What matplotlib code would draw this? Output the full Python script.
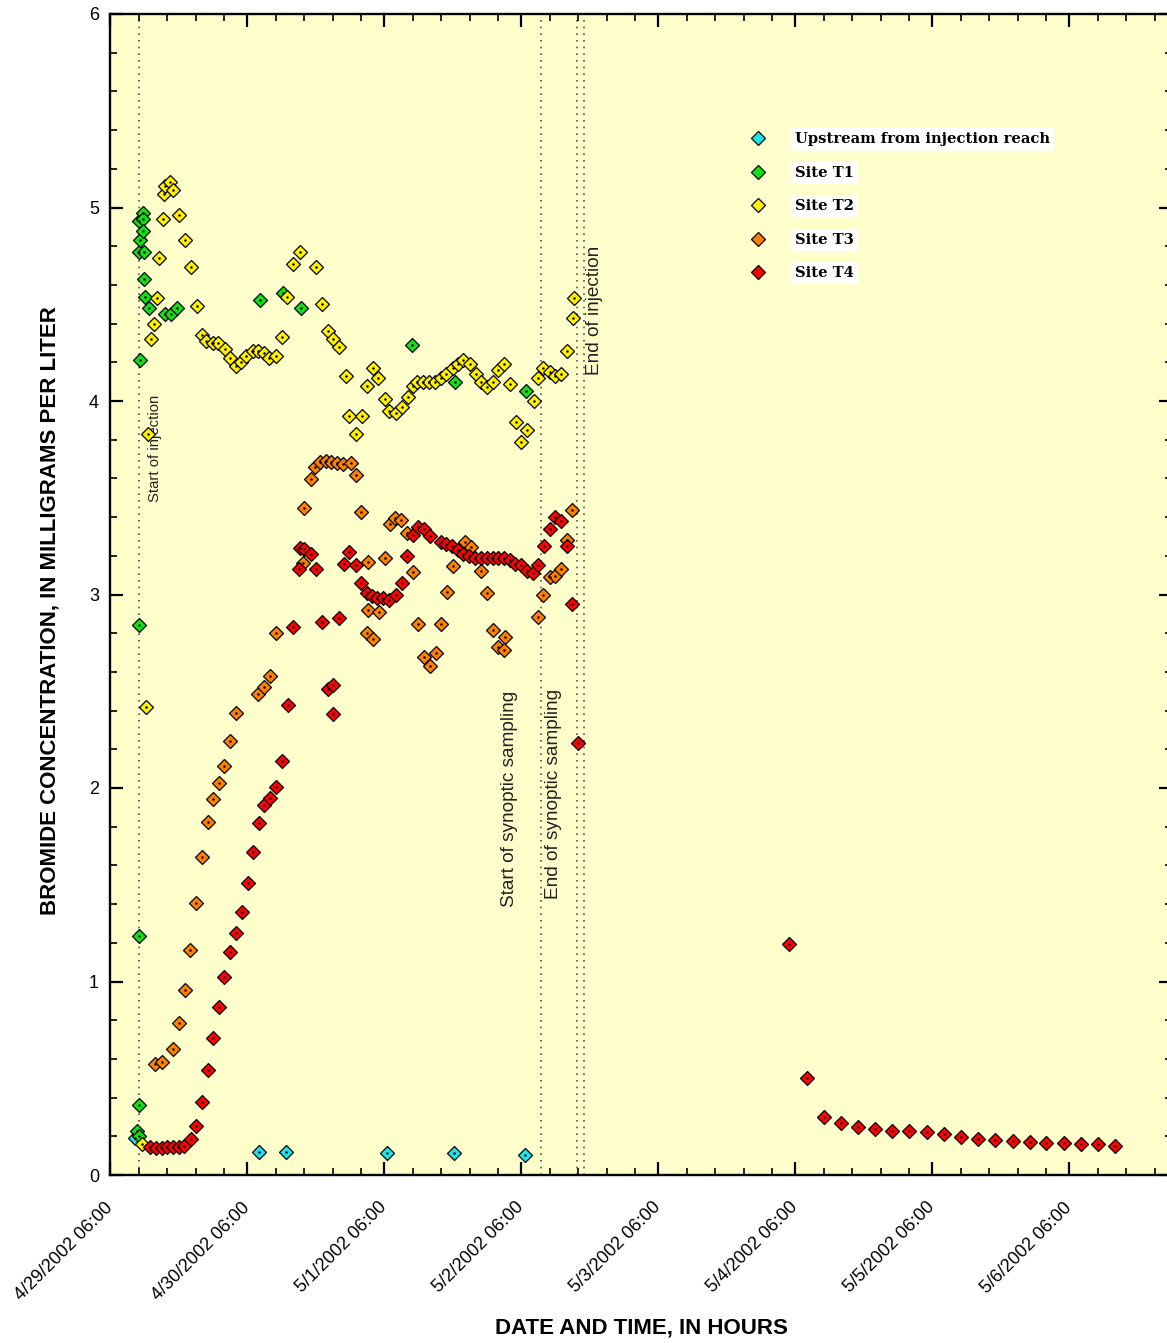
import numpy as np
import matplotlib.pyplot as plt
import matplotlib.transforms as mtransforms
from matplotlib.ticker import FixedLocator

plt.rcParams['font.family'] = ['Liberation Sans', 'DejaVu Sans']

# Times are hours after 4/29/2002 06:00
upstream_hours = [4.3, 26.1, 30.8, 48.5, 60.3, 72.7]
upstream_conc = [0.19, 0.12, 0.12, 0.115, 0.115, 0.105]

t1_hours = [4.7, 5.1, 5.1, 5.1, 5.1, 5.3, 5.1, 5.3, 5.1, 5.7, 5.8, 5.8, 6.0,
            6.0, 6.1, 6.8, 9.6, 10.6, 11.8, 26.3, 30.3, 33.4, 52.9, 60.4, 72.9]
t1_conc = [0.227, 0.20, 0.36, 1.235, 2.84, 4.21, 4.77, 4.83, 4.93, 4.97, 4.94, 4.88, 4.77,
           4.63, 4.54, 4.48, 4.45, 4.45, 4.48, 4.52, 4.56, 4.48, 4.29, 4.10, 4.05]

t2_hours = [5.6, 6.3, 6.6, 7.1, 7.7, 8.2, 8.6, 9.2, 9.5, 9.7, 10.5, 11.1, 12.1, 13.2,
            14.1, 15.2, 16.1, 16.9, 18.1, 19.0, 20.2, 21.0, 22.0, 22.9, 23.8, 25.0,
            26.0, 27.0, 27.9, 29.1, 30.1, 31.0, 32.1, 33.2, 36.1, 37.1, 38.1, 39.0,
            40.1, 41.3, 41.9, 43.1, 44.1, 45.0, 46.0, 47.0, 48.1, 48.9, 50.1, 51.1,
            52.2, 53.0, 53.8, 54.8, 55.8, 56.9, 57.9, 58.9, 60.0, 60.9, 61.9, 63.1,
            64.1, 64.9, 66.0, 67.0, 68.0, 69.0, 70.1, 71.1, 72.0, 73.0, 74.2, 75.0,
            75.9, 77.0, 78.0, 79.0, 80.0, 81.1, 81.2]
t2_conc = [0.16, 2.42, 3.83, 4.32, 4.40, 4.53, 4.74, 4.94, 5.07, 5.11, 5.13, 5.09, 4.96, 4.83,
           4.69, 4.49, 4.34, 4.31, 4.30, 4.30, 4.27, 4.22, 4.18, 4.20, 4.23, 4.26,
           4.26, 4.25, 4.22, 4.23, 4.33, 4.54, 4.71, 4.77, 4.69, 4.50, 4.36, 4.32,
           4.28, 4.13, 3.92, 3.83, 3.92, 4.08, 4.17, 4.12, 4.01, 3.95, 3.94, 3.97,
           4.02, 4.08, 4.10, 4.10, 4.10, 4.10, 4.12, 4.14, 4.17, 4.19, 4.21, 4.19,
           4.14, 4.10, 4.07, 4.10, 4.16, 4.19, 4.09, 3.89, 3.79, 3.85, 4.00, 4.12,
           4.17, 4.15, 4.13, 4.14, 4.26, 4.43, 4.53]

t3_hours = [7.9, 9.1, 11.1, 12.1, 13.1, 14.0, 15.1, 16.1, 17.1, 18.1, 19.1, 20.0, 21.0,
            22.1, 26.0, 27.0, 28.0, 29.1, 33.8, 34.0, 35.2, 35.9, 36.8, 37.8, 38.7,
            39.7, 40.8, 42.2, 43.1, 44.0, 45.1, 45.0, 45.1, 46.0, 47.1, 48.1, 49.1,
            49.9, 51.0, 52.0, 53.1, 54.0, 55.0, 56.1, 57.1, 58.0, 59.0, 60.0, 62.1,
            63.2, 65.0, 66.0, 67.0, 68.0, 69.1, 69.0, 75.0, 75.9, 77.0, 78.0, 79.0,
            80.0, 81.0]
t3_conc = [0.574, 0.583, 0.652, 0.783, 0.955, 1.163, 1.408, 1.643, 1.825, 1.943, 2.024, 2.115, 2.245,
           2.387, 2.485, 2.523, 2.577, 2.80, 3.165, 3.445, 3.597, 3.66, 3.686, 3.69, 3.683,
           3.678, 3.673, 3.678, 3.618, 3.428, 3.17, 2.80, 2.92, 2.77, 2.91, 3.19, 3.364,
           3.397, 3.385, 3.316, 3.118, 2.848, 2.679, 2.632, 2.70, 2.848, 3.015, 3.149, 3.273,
           3.247, 3.123, 3.006, 2.817, 2.730, 2.779, 2.713, 2.885, 2.997, 3.089, 3.096, 3.132,
           3.282, 3.437]

t4_hours = [7.0, 8.1, 9.1, 9.9, 11.0, 12.0, 13.0, 14.1, 15.1, 16.1, 17.1, 18.1, 19.1,
            20.0, 21.0, 22.0, 23.1, 24.1, 25.0, 26.1, 27.0, 28.0, 29.1, 30.1, 31.1,
            32.1, 33.1, 33.3, 33.9, 35.2, 36.1, 37.1, 38.1, 39.0, 39.0, 40.1, 41.0,
            41.8, 43.1, 44.0, 45.0, 45.8, 46.8, 47.8, 48.8, 50.1, 51.1, 52.1, 53.1,
            54.0, 55.0, 56.1, 57.9, 58.8, 59.9, 60.9, 61.9, 62.9, 63.9, 64.9, 66.0,
            67.0, 68.0, 69.0, 70.1, 71.0, 72.0, 73.0, 74.1, 75.0, 76.0, 77.1, 78.0,
            79.0, 80.0, 81.0, 82.0, 119.0, 122.0, 125.0, 128.0, 131.0, 134.0, 137.0,
            140.0, 143.1, 146.0, 149.0, 152.0, 155.0, 158.1, 161.1, 164.0, 167.0,
            170.1, 173.0, 176.1]
t4_conc = [0.145, 0.14, 0.14, 0.145, 0.145, 0.145, 0.15, 0.184, 0.252, 0.375, 0.542, 0.707, 0.868,
           1.024, 1.150, 1.250, 1.359, 1.508, 1.667, 1.821, 1.910, 1.948, 2.006, 2.142, 2.427,
           2.83, 3.13, 3.24, 3.235, 3.21, 3.13, 2.86, 2.51, 2.53, 2.38, 2.88, 3.16,
           3.22, 3.15, 3.06, 3.01, 2.99, 2.98, 2.98, 2.97, 3.00, 3.06, 3.20, 3.31,
           3.35, 3.34, 3.30, 3.27, 3.26, 3.25, 3.23, 3.21, 3.20, 3.19, 3.19, 3.19,
           3.19, 3.19, 3.19, 3.18, 3.16, 3.15, 3.12, 3.11, 3.15, 3.25, 3.34, 3.40,
           3.38, 3.25, 2.95, 2.23, 1.194, 0.500, 0.301, 0.270, 0.250, 0.238, 0.229,
           0.229, 0.224, 0.212, 0.198, 0.184, 0.181, 0.177, 0.172, 0.167, 0.164,
           0.160, 0.159, 0.151]

series = [
    ('Upstream from injection reach', upstream_hours, upstream_conc, '#1EE3EE'),
    ('Site T1', t1_hours, t1_conc, '#12E012'),
    ('Site T2', t2_hours, t2_conc, '#FFF000'),
    ('Site T3', t3_hours, t3_conc, '#FF8000'),
    ('Site T4', t4_hours, t4_conc, '#FF0000'),
]

# event lines (hours) and their labels
event_hours = [5.1, 75.5, 81.8, 83.0]
event_labels = ['Start of injection', 'Start of synoptic sampling',
                'End of synoptic sampling', 'End of injection']
label_x = [7.8, 69.9, 77.6, 84.8]
label_y = [3.754, 1.943, 1.969, 4.468]
label_size = [10.7, 13.7, 13.7, 13.7]

tick_hours = [0, 24, 48, 72, 96, 120, 144, 168]
tick_labels = ['4/29/2002 06:00', '4/30/2002 06:00', '5/1/2002 06:00', '5/2/2002 06:00',
               '5/3/2002 06:00', '5/4/2002 06:00', '5/5/2002 06:00', '5/6/2002 06:00']

fig = plt.figure(figsize=(11.67, 13.43), dpi=100)
ax = fig.add_axes([110 / 1167, 1 - 1175 / 1343, 1062 / 1167, 1161 / 1343])
ax.set_facecolor('#FFFFCC')

for h in event_hours:
    ax.axvline(h, color='#555555', lw=1.2, ls=(0, (1, 3)), zorder=1)
for x, y, txt, fs in zip(label_x, label_y, event_labels, label_size):
    ax.text(x, y, txt, rotation=90, ha='center', va='center', fontsize=fs, color='#222222')

for name, xs, ys, col in series:
    ax.plot(xs, ys, ls='none', marker='D', ms=7.6, mfc=col, mec='black', mew=0.9,
            label=name, zorder=3)
    ax.plot(xs, ys, ls='none', marker='o', ms=0.8, color='black', zorder=4)

ax.set_xlim(0, 186)
ax.set_ylim(0, 6)
ax.set_xticks(tick_hours)
ax.set_xticklabels([])
# rotated date labels, anchored just below each major tick
lbl_trans = ax.get_xaxis_transform() + mtransforms.ScaledTranslation(-0.06, -0.24, fig.dpi_scale_trans)
for h, txt in zip(tick_hours, tick_labels):
    ax.text(h, 0, txt, transform=lbl_trans, rotation=45, ha='right', va='top',
            rotation_mode='anchor', fontsize=13, clip_on=False)
ax.xaxis.set_minor_locator(FixedLocator([d + m for d in range(0, 186, 24) for m in (5, 10, 15, 20)]))
ax.set_yticks(np.arange(0, 7, 1))
ax.yaxis.set_minor_locator(FixedLocator(np.arange(0, 6.01, 0.2)))

ax.tick_params(which='both', direction='in', top=True, right=True)
ax.tick_params(which='major', length=9.5, width=1.6)
ax.tick_params(which='minor', length=5, width=1.2)
ax.tick_params(axis='y', which='major', labelsize=13, pad=8)
for s in ax.spines.values():
    s.set_linewidth(1.7)

ax.set_xlabel('DATE AND TIME, IN HOURS', fontsize=16, fontweight='bold')
ax.set_ylabel('BROMIDE CONCENTRATION, IN MILLIGRAMS PER LITER', fontsize=16, fontweight='bold')
ax.xaxis.set_label_coords(0.5, -0.123)
ax.yaxis.set_label_coords(-0.047, 0.486)

leg = ax.legend(loc='upper left', bbox_to_anchor=((750.5 - 110) / 1062, (1175 - 132.5) / 1161),
                frameon=False, numpoints=1, handlelength=1.0, handletextpad=2.0,
                labelspacing=1.32, borderpad=0, borderaxespad=0,
                prop={'family': 'DejaVu Serif', 'weight': 'bold', 'size': 10.6})
for t in leg.get_texts():
    t.set_bbox(dict(facecolor='white', edgecolor='none', pad=3))

fig.savefig('out.png', dpi=100)
